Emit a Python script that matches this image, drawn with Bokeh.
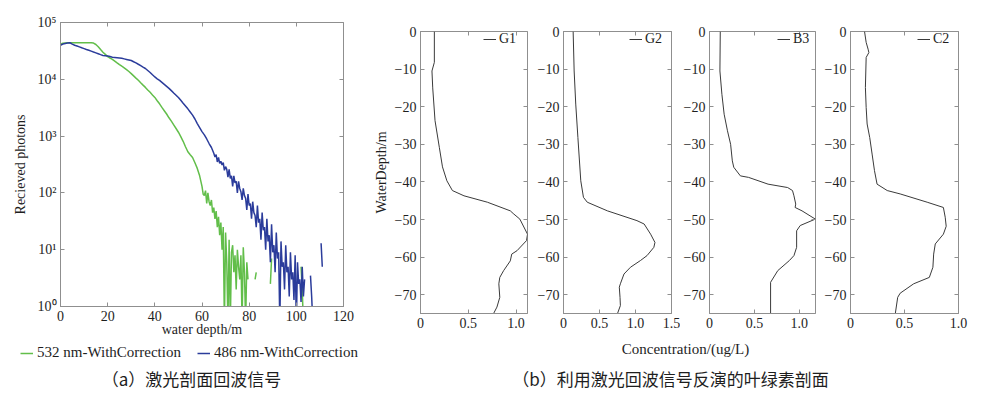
import numpy as np
from bokeh.plotting import figure
from bokeh.models import (Range1d, FixedTicker, LinearAxis, LogAxis, Legend,
                          LegendItem, Label)
from bokeh.layouts import row, column
from bokeh.embed import file_html
from bokeh.resources import INLINE

nan = float("nan")

# ---------------- panel (a): laser echo signal ----------------
green_depth = np.concatenate([np.arange(0, 60, 1.0), np.arange(60, 104.5, 0.5)])
green_photons = [
    42000, 43000, 43500, 44000, 44000, 44000, 44000, 44000, 44000, 44000,
    44000, 44000, 44000, 44000, 43500, 41000, 37500, 33500, 30000, 27500,
    25100, 23700, 22400, 20900, 19500, 18200, 17000, 15900, 14800, 13700,
    12600, 11500, 10500, 9600, 8700, 7900, 7200, 6500, 5900, 5300,
    4800, 4200, 3700, 3200, 2800, 2450, 2100, 1830, 1580, 1360,
    1170, 980, 810, 650, 530, 470, 420, 340, 270, 200,
    # 60 .. 104 every 0.5 m
    130, 95, 90, 110, 65, 100, 70, 60, 75, 45,
    55, 35, 48, 25, 38, 18, 30, 10, 25, 0.5,
    20, 6, 0.5, 15, 0.5, 9, 12, 4, 8, 2,
    10, 5, 3, 8, 0.5, 11, 4, 0.5, 6, 3,
    nan, nan, nan, nan, nan, 3, 4, nan,
    nan, nan, nan, nan, nan, nan, nan, nan, nan, nan,
    2.5, 7, nan,
    nan, nan, nan, nan, nan, nan, nan, nan, nan, nan, nan, nan,
    nan, nan, nan, nan, nan, nan, nan, nan, nan, nan, nan,
    5, 2, 0.5, nan, nan,
]

blue_depth = np.concatenate([np.arange(0, 65, 1.0), np.arange(65, 111.5, 0.5)])
blue_photons = [
    39800, 41700, 42700, 43600, 44000, 41700, 39800, 38500, 37200, 35900,
    34700, 33500, 32400, 31300, 30200, 29200, 28200, 27200, 26300, 26000,
    25700, 25100, 24500, 24300, 24000, 23700, 23400, 22900, 22400, 21900,
    21400, 20400, 19500, 18400, 17400, 16400, 15500, 14300, 13200, 12000,
    11000, 10200, 9550, 8810, 8130, 7500, 6920, 6310, 5750, 5250,
    4790, 4270, 3800, 3390, 3020, 2660, 2340, 2000, 1660, 1410,
    1200, 1050, 890, 740, 630,
    # 65 .. 111 every 0.5 m
    500, 430, 470, 350, 420, 330, 360, 310, 340, 250,
    290, 260, 190, 260, 180, 200, 130, 200, 150, 160,
    100, 160, 120, 105, 75, 120, 90, 80, 50, 95,
    60, 65, 35, 70, 45, 40, 25, 60, 30, 35,
    15, 45, 22, 25, 10, 35, 14, 18, 6, 28,
    9, 12, 4, 20, 7, 9, 0.5, 14, 5, 6,
    2, 12, 4, 5, 1.5, 9, 3, 4, 1.3, 8,
    0.5, 6, 2.5, 3, 1.2, 5, 1.5, 3,
    nan, nan, nan, nan, 3.5, 1.5, 0.5,
    nan, nan, nan, nan, nan, nan, 13, 5,
]

a_x_ticks = [0, 20, 40, 60, 80, 100, 120]
a_y_ticks = [1, 10, 100, 1000, 10000, 100000]
a_y_labels = ["10⁰", "10¹", "10²", "10³", "10⁴", "10⁵"]
a_series_names = ["532 nm-WithCorrection", "486 nm-WithCorrection"]

# ---------------- panel (b): chlorophyll profiles ----------------
g1_conc = [0.145, 0.145, 0.12, 0.128, 0.152, 0.197, 0.23, 0.276, 0.334, 0.455,
           0.70, 0.94, 0.97, 1.04, 1.12, 1.11, 1.01, 0.955, 0.94, 0.87,
           0.83, 0.82, 0.83, 0.80, 0.765]
g1_depth = [0, -8.2, -10.5, -15, -23.7, -30.8, -36, -39.7, -42.3, -43.7,
            -45.4, -47.7, -48.4, -49.9, -53.9, -55.6, -58.3, -59.2, -61, -63.6,
            -65.4, -67.1, -70.7, -73.3, -75]

g2_conc = [0.134, 0.148, 0.17, 0.20, 0.24, 0.277, 0.33, 0.61, 1.02, 1.12,
           1.21, 1.27, 1.255, 1.16, 1.07, 0.93, 0.84, 0.79, 0.775, 0.785,
           0.79, 0.75]
g2_depth = [0, -10.5, -19.3, -28.2, -39.7, -44.1, -45.4, -47.7, -50.3, -51.2,
            -53.9, -56.1, -57.4, -59.6, -60.9, -62.7, -64.5, -67.1, -68, -70.7,
            -72.9, -75]

b3_conc = [0.12, 0.116, 0.138, 0.163, 0.20, 0.235, 0.254, 0.27, 0.344, 0.435,
           0.652, 0.87, 0.924, 0.94, 0.96, 0.953, 1.03, 1.178, 1.01, 0.97,
           0.97, 0.94, 0.89, 0.76, 0.68, 0.68]
b3_depth = [0, -10.5, -16.7, -22, -26.4, -30, -34.4, -36.1, -38.4, -38.8,
            -40.6, -41.5, -42.3, -43.7, -45.9, -46.8, -47.7, -49.9, -51.6, -53,
            -57.4, -59.6, -60.9, -63.6, -66.7, -75]

c2_conc = [0.13, 0.145, 0.163, 0.17, 0.145, 0.138, 0.145, 0.154, 0.178, 0.20,
           0.222, 0.246, 0.34, 0.46, 0.71, 0.86, 0.877, 0.886, 0.86, 0.785,
           0.77, 0.763, 0.73, 0.585, 0.46, 0.437, 0.415]
c2_depth = [0, -2.9, -4.7, -5.6, -6.9, -14.9, -20.2, -24.6, -28.2, -32.6,
            -37, -40.6, -42.3, -43.2, -45.4, -46.8, -49.4, -51.8, -53.9, -56.5,
            -59.2, -62.7, -65.4, -67.1, -69.6, -70.7, -75]

b_y_ticks = [0, -10, -20, -30, -40, -50, -60, -70]
b_y_labels = ["0", "−10", "−20", "−30", "−40", "−50", "−60", "−70"]

# ---------------- styling ----------------
SERIF = "Liberation Serif"
CJK = "Noto Sans CJK SC"
GRAY = "#8f8f8f"
TXT = "#1e1e1e"
GREEN = "#62BE4A"
BLUE = "#2B3C9B"
FS = "14px"
TOP_H = 341


def style_axis(ax):
    ax.axis_line_color = GRAY
    ax.major_tick_line_color = GRAY
    ax.major_tick_in = 4
    ax.major_tick_out = 0
    ax.minor_tick_line_color = None
    ax.major_label_text_font = SERIF
    ax.major_label_text_font_size = FS
    ax.major_label_text_color = TXT
    ax.major_label_standoff = 4
    ax.axis_label_text_font = SERIF
    ax.axis_label_text_font_size = FS
    ax.axis_label_text_font_style = "normal"
    ax.axis_label_text_color = TXT
    ax.axis_label_standoff = 3


def mirror(p, side, ticks, log=False):
    cls = LogAxis if log else LinearAxis
    ax = cls(ticker=FixedTicker(ticks=ticks))
    style_axis(ax)
    ax.axis_line_color = None
    ax.major_label_overrides = {t: "" for t in ticks}
    ax.major_label_text_font_size = "1px"
    ax.major_label_standoff = 0
    p.add_layout(ax, side)


def base(p):
    p.outline_line_color = GRAY
    p.grid.visible = False
    p.background_fill_color = "white"
    p.border_fill_color = "white"


# ---- figure (a) ----
pa = figure(width=370, height=TOP_H, y_axis_type="log",
            x_range=Range1d(0, 120), y_range=Range1d(1, 1e5),
            min_border_left=60, min_border_right=27,
            min_border_top=22, min_border_bottom=TOP_H - 22 - 284,
            output_backend="svg", toolbar_location=None)
base(pa)
pa.line(green_depth, green_photons, line_color=GREEN, line_width=1.5)
pa.line(blue_depth, blue_photons, line_color=BLUE, line_width=1.5)
pa.xaxis.ticker = FixedTicker(ticks=a_x_ticks)
pa.yaxis.ticker = FixedTicker(ticks=a_y_ticks)
pa.yaxis.major_label_overrides = dict(zip(a_y_ticks, a_y_labels))
pa.xaxis.axis_label = "water depth/m"
pa.yaxis.axis_label = "Recieved photons"
for ax in pa.xaxis + pa.yaxis:
    style_axis(ax)
pa.xaxis.axis_label_standoff = -2
pa.yaxis.axis_label_standoff = 7
mirror(pa, "right", a_y_ticks, log=True)
mirror(pa, "above", a_x_ticks)


# ---- figures (b) ----
def profile(name, conc, depth, xmax, xticks, xlabels, width, bl, br, legx,
            ylabel=None):
    p = figure(width=width, height=TOP_H,
               x_range=Range1d(0, xmax), y_range=Range1d(-75, 0),
               min_border_left=bl, min_border_right=br,
               min_border_top=31, min_border_bottom=TOP_H - 31 - 282,
               output_backend="svg", toolbar_location=None)
    base(p)
    r = p.line(conc, depth, line_color="#3a3a3a", line_width=1)
    p.xaxis.ticker = FixedTicker(ticks=xticks)
    p.xaxis.major_label_overrides = dict(zip(xticks, xlabels))
    p.yaxis.ticker = FixedTicker(ticks=b_y_ticks)
    p.yaxis.major_label_overrides = dict(zip(b_y_ticks, b_y_labels))
    if ylabel:
        p.yaxis.axis_label = ylabel
    for ax in p.xaxis + p.yaxis:
        style_axis(ax)
    mirror(p, "right", b_y_ticks)
    mirror(p, "above", xticks)
    leg = Legend(items=[LegendItem(label=name, renderers=[r])],
                 location=(legx, 266), glyph_width=13, glyph_height=10,
                 label_height=10, label_standoff=3, padding=0, margin=0,
                 border_line_color=None, background_fill_alpha=0,
                 label_text_font=SERIF, label_text_font_size=FS,
                 label_text_color=TXT)
    p.add_layout(leg)
    return p


p1 = profile("G1", g1_conc, g1_depth, 1.12, [0, 0.5, 1.0], ["0", "0.5", "1.0"],
             163, 49, 6, 63, ylabel="WaterDepth/m")
p2 = profile("G2", g2_conc, g2_depth, 1.5, [0, 0.5, 1.0, 1.5],
             ["0", "0.5", "1.0", "1.5"], 147, 30, 9, 66)
p3 = profile("B3", b3_conc, b3_depth, 1.18, [0, 0.5, 1.0], ["0", "0.5", "1.0"],
             141, 27, 6, 68)
p4 = profile("C2", c2_conc, c2_depth, 1.0, [0, 0.5, 1.0], ["0", "0.5", "1.0"],
             152, 29, 15, 67)

# ---- bottom strip: legend of (a), axis title of (b), captions ----
STRIP_H = 390 - TOP_H
st = figure(width=973, height=STRIP_H, x_range=Range1d(0, 1),
            y_range=Range1d(0, 1), min_border=0, x_axis_location=None,
            y_axis_location=None, output_backend="svg", toolbar_location=None)
st.outline_line_color = None
st.grid.visible = False
st.background_fill_color = "white"
st.border_fill_color = "white"
sg = st.line([nan], [nan], line_color=GREEN, line_width=1.5)
sb = st.line([nan], [nan], line_color=BLUE, line_width=1.5)
leg_a = Legend(items=[LegendItem(label=a_series_names[0], renderers=[sg]),
                      LegendItem(label=a_series_names[1], renderers=[sb])],
               location=(20, STRIP_H - 20), orientation="horizontal",
               glyph_width=13, glyph_height=10, label_height=10,
               label_standoff=4, spacing=16, padding=0, margin=0,
               border_line_color=None, background_fill_alpha=0,
               label_text_font=SERIF, label_text_font_size="15px",
               label_text_color=TXT)
st.add_layout(leg_a)
st.add_layout(Label(x=191, y=12, x_units="screen", y_units="screen",
                    text="（a）激光剖面回波信号", text_align="center",
                    text_baseline="middle", text_font=CJK,
                    text_font_size="17px", text_color=TXT))
st.add_layout(Label(x=685, y=STRIP_H - 7, x_units="screen", y_units="screen",
                    text="Concentration/(ug/L)", text_align="center",
                    text_baseline="middle", text_font=SERIF,
                    text_font_size="15px", text_color=TXT))
st.add_layout(Label(x=670, y=12, x_units="screen", y_units="screen",
                    text="（b）利用激光回波信号反演的叶绿素剖面", text_align="center",
                    text_baseline="middle", text_font=CJK,
                    text_font_size="17px", text_color=TXT))

top = row(column(pa), column(row(p1, p2, p3, p4)))
layout = column(top, st)
open("out.html", "w").write(file_html(layout, INLINE))
